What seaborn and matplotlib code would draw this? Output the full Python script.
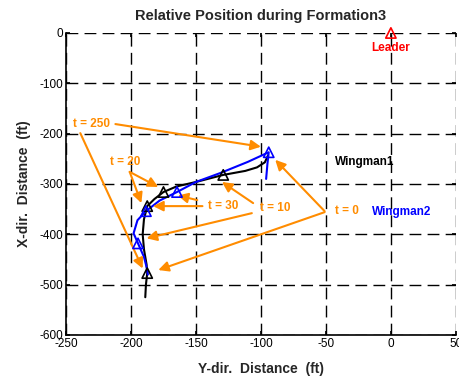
import numpy as np
import pandas as pd
import seaborn as sns
import matplotlib.pyplot as plt

# trajectories (Y-dir, X-dir) in ft
w1_y = [-189, -188.5, -187.5, -188, -190, -191, -190, -187.5, -182, -175, -165, -150,
        -129, -112, -103, -97, -94.5]
w1_x = [-525, -500, -477, -460, -430, -400, -370, -344, -330, -316, -305, -296,
        -282, -274, -267, -257, -243]
w2_y = [-96, -95, -94, -110, -131, -150, -164.6, -178, -188.5, -195, -198, -194.6,
        -190, -187.5, -187]
w2_x = [-290, -260, -237, -256, -278, -296, -316, -333, -354, -372, -398, -418,
        -445, -470, -480]

# triangle markers
w1_mk_y = [-187.5, -187.5, -175, -129]
w1_mk_x = [-477, -344, -316, -282]
w2_mk_y = [-94, -164.6, -188.5, -194.6]
w2_mk_x = [-237, -316, -354, -418]
leader_y, leader_x = [0], [0]

# time labels: text, text position, arrow tails and heads
t_labels = ["t = 250", "t = 20", "t = 30", "t = 10", "t = 0"]
t_pos = [(-245, -181), (-216, -256), (-141, -344), (-101, -348), (-43, -354)]
t_arrows = [
    [((-212, -181), (-100, -226)), ((-239, -199), (-191, -468))],
    [((-201, -276), (-179, -306)), ((-201, -276), (-192, -338))],
    [((-145, -344), (-183, -344)), ((-149, -332), (-164, -323))],
    [((-106, -338), (-130, -296)), ((-107, -358), (-188, -408))],
    [((-51, -354), (-89, -252)), ((-51, -356), (-179, -471))],
]

orange = "#ff8c00"

sns.set_theme(style="white")
plt.rcParams['font.family'] = ['Liberation Sans', 'DejaVu Sans']
plt.rcParams['axes.unicode_minus'] = False

fig = plt.figure(figsize=(4.6, 3.78), dpi=100)
ax = fig.add_axes([0.1435, 0.1138, 0.8475, 0.799])

w1 = pd.DataFrame({"y": w1_y, "x": w1_x})
w2 = pd.DataFrame({"y": w2_y, "x": w2_x})
sns.lineplot(data=w1, x="y", y="x", sort=False, estimator=None, color="black", lw=1.5, ax=ax)
sns.lineplot(data=w2, x="y", y="x", sort=False, estimator=None, color="blue", lw=1.5, ax=ax)

sns.scatterplot(x=w1_mk_y, y=w1_mk_x, marker="^", s=55, facecolor="none",
                edgecolor="black", linewidth=1.2, ax=ax, zorder=5)
sns.scatterplot(x=w2_mk_y, y=w2_mk_x, marker="^", s=55, facecolor="none",
                edgecolor="blue", linewidth=1.2, ax=ax, zorder=5)
sns.scatterplot(x=leader_y, y=leader_x, marker="^", s=55, facecolor="none",
                edgecolor="red", linewidth=1.2, ax=ax, zorder=5, clip_on=False)

for lab, pos, arrs in zip(t_labels, t_pos, t_arrows):
    ax.text(pos[0], pos[1], lab, color=orange, fontsize=8.5, fontweight="bold",
            ha="left", va="center")
    for tail, head in arrs:
        ax.annotate("", xy=head, xytext=tail,
                    arrowprops=dict(arrowstyle="-|>", color=orange, lw=1.5,
                                    mutation_scale=15, shrinkA=0, shrinkB=0))

ax.text(-43, -256, "Wingman1", color="black", fontsize=8.5, fontweight="bold", va="center")
ax.text(-14.6, -356, "Wingman2", color="blue", fontsize=8.5, fontweight="bold", va="center")
ax.text(0, -30, "Leader", color="red", fontsize=8.5, fontweight="bold", ha="center", va="center")

ax.set_xlim(-250, 50)
ax.set_ylim(-600, 0)
ax.set_xticks(np.arange(-250, 51, 50))
ax.set_yticks(np.arange(-600, 1, 100))
ax.grid(True, color="black", linestyle=(0, (8.5, 4.5)), lw=1.0)
ax.tick_params(direction="in", length=3, labelsize=8.5, colors="black", pad=2,
               bottom=True, left=True, top=True, right=True)
for side in ["top", "right"]:
    ax.spines[side].set_visible(False)
for side in ["left", "bottom"]:
    ax.spines[side].set_color("black")
    ax.spines[side].set_linewidth(1.2)

ax.set_title("Relative Position during Formation3", fontsize=10.5, fontweight="bold", pad=9)
ax.set_xlabel("Y-dir.  Distance  (ft)", fontsize=10, fontweight="bold", labelpad=9)
ax.set_ylabel("X-dir.  Distance  (ft)", fontsize=10, fontweight="bold", labelpad=6)

fig.savefig("out.png", dpi=100)
